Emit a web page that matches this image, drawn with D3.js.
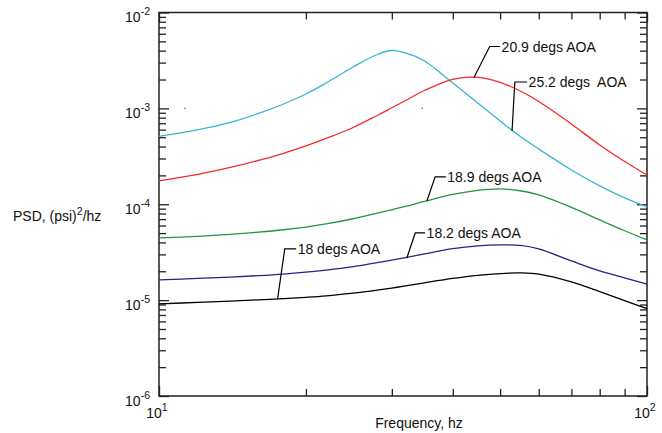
<!DOCTYPE html>
<html><head><meta charset="utf-8">
<script src="https://cdn.jsdelivr.net/npm/d3@7"></script>
<style>
html,body{margin:0;padding:0;background:#fff;}
svg{display:block;font-family:"Liberation Sans",Arial,Helvetica,sans-serif;}
</style></head>
<body>
<svg id="chart" width="662" height="433"></svg>
<script>
// ---------- data ----------
const freqs = [10,12,14,16,18,20,22,25,28,30,32,35,40,45,50,55,60,70,80,90,100];
const aoa25_2 = [5.093e-4,5.954e-4,7.129e-4,8.846e-4,1.111e-3,1.413e-3,1.841e-3,2.702e-3,3.648e-3,4.016e-3,3.782e-3,3.122e-3,1.841e-3,1.138e-3,7.389e-4,5.093e-4,3.772e-4,2.279e-4,1.552e-4,1.163e-4,9.374e-5];
const aoa20_9 = [1.750e-4,2.045e-4,2.419e-4,2.861e-4,3.402e-4,4.054e-4,4.854e-4,6.322e-4,8.433e-4,1.015e-3,1.209e-3,1.537e-3,2.011e-3,2.105e-3,1.863e-3,1.518e-3,1.180e-3,6.877e-4,4.153e-4,2.794e-4,2.021e-4];
const aoa18_9 = [4.452e-5,4.627e-5,4.854e-5,5.118e-5,5.421e-5,5.785e-5,6.232e-5,7.061e-5,8.076e-5,8.761e-5,9.486e-5,1.070e-4,1.265e-4,1.393e-4,1.444e-4,1.383e-4,1.250e-4,9.260e-5,6.861e-5,5.292e-5,4.244e-5];
const aoa18_2 = [1.624e-5,1.684e-5,1.741e-5,1.801e-5,1.871e-5,1.959e-5,2.060e-5,2.240e-5,2.466e-5,2.613e-5,2.774e-5,3.032e-5,3.436e-5,3.675e-5,3.764e-5,3.719e-5,3.420e-5,2.563e-5,2.016e-5,1.704e-5,1.465e-5];
const aoa18 = [9.129e-6,9.486e-6,9.786e-6,1.007e-5,1.036e-5,1.070e-5,1.109e-5,1.186e-5,1.274e-5,1.337e-5,1.406e-5,1.515e-5,1.684e-5,1.814e-5,1.894e-5,1.921e-5,1.867e-5,1.548e-5,1.226e-5,9.881e-6,8.135e-6];

const seriesNames = ["25.2 degs  AOA","20.9 degs AOA","18.9 degs AOA","18.2 degs AOA","18 degs AOA"];
const seriesColors = ["#38b4d4","#f42a2a","#23963a","#2c1f8c","#000000"];
const seriesValues = [aoa25_2, aoa20_9, aoa18_9, aoa18_2, aoa18];

// label leaders in data coords: anchor on curve -> elbow -> end, then text
const labelAnchorF = [52.9, 44.2, 35.4, 32.2, 17.5];
const labelAnchorV = [5.81e-4, 2.1e-3, 1.08e-4, 2.75e-5, 1.03e-5];
const labelElbowF  = [53.6, 47.6, 36.8, 33.5, 18.1];
const labelEndF    = [56.8, 50.0, 38.7, 35.1, 19.1];
const labelV       = [1.885e-3, 4.42e-3, 1.93e-4, 5.02e-5, 3.42e-5];

const xMajor = [10, 100];
const xMinor = [20,30,40,50,60,70,80,90];
const yExponents = [-6,-5,-4,-3,-2];
const xExponents = [1,2];

// ---------- layout ----------
const L = 159, R = 647, T = 12.5, B = 396;
const svg = d3.select("#chart");
const x = d3.scaleLog().domain([10,100]).range([L,R]);
const y = d3.scaleLog().domain([1e-6,1e-2]).range([B,T]);

const yMajor = yExponents.map(e => Math.pow(10,e));
const yMinor = [];
yExponents.slice(0,-1).forEach(e => { for (let k=2;k<=9;k++) yMinor.push(k*Math.pow(10,e)); });

const axisColor = "#222";
const majLen = 10, minLen = 7;

function drawAxis(gen, values, len, tx, ty){
  const g = svg.append("g").attr("transform",`translate(${tx},${ty})`)
    .call(gen.tickValues(values).tickSize(len).tickFormat(""));
  g.select(".domain").remove();
  g.selectAll("line").attr("stroke",axisColor).attr("stroke-width",1.3);
}
drawAxis(d3.axisRight(y), yMajor, majLen, L, 0);
drawAxis(d3.axisRight(y), yMinor, minLen, L, 0);
drawAxis(d3.axisLeft(y), yMajor, majLen, R, 0);
drawAxis(d3.axisLeft(y), yMinor, minLen, R, 0);
drawAxis(d3.axisTop(x), xMajor, majLen, 0, B);
drawAxis(d3.axisTop(x), xMinor, minLen, 0, B);
drawAxis(d3.axisBottom(x), xMajor, majLen, 0, T);
drawAxis(d3.axisBottom(x), xMinor, minLen, 0, T);

svg.append("rect").attr("x",L).attr("y",T).attr("width",R-L).attr("height",B-T)
  .attr("fill","none").attr("stroke",axisColor).attr("stroke-width",1.5);

// y tick labels
yExponents.forEach(e => {
  const t = svg.append("text").attr("x",150).attr("y",y(Math.pow(10,e))+9.5)
    .attr("text-anchor","end").attr("font-size",14).attr("fill","#111");
  t.append("tspan").text("10");
  t.append("tspan").attr("font-size",10.5).attr("dy",-7).text(String(e));
});
// x tick labels
xExponents.forEach(e => {
  const t = svg.append("text").attr("x",x(Math.pow(10,e))-2).attr("y",418)
    .attr("text-anchor","middle").attr("font-size",14).attr("fill","#111");
  t.append("tspan").text("10");
  t.append("tspan").attr("font-size",10.5).attr("dy",-7).text(String(e));
});

// axis titles
svg.append("text").attr("x",419).attr("y",428).attr("text-anchor","middle")
  .attr("font-size",14).attr("fill","#111").text("Frequency, hz");
const yt = svg.append("text").attr("x",13).attr("y",221).attr("font-size",14).attr("fill","#111");
yt.append("tspan").text("PSD, (psi)");
yt.append("tspan").attr("font-size",10.5).attr("dy",-6).text("2");
yt.append("tspan").attr("dy",6).text("/hz");

// stray marks present in original
svg.append("g").selectAll("rect").data([[11.3,1e-3],[34.6,1e-3]]).join("rect")
  .attr("x",d=>x(d[0])-0.6).attr("y",d=>y(d[1])-0.6).attr("width",1.2).attr("height",1.2).attr("fill","#444");

// curves
const line = d3.line().x(d=>x(d[0])).y(d=>y(d[1])).curve(d3.curveCatmullRom.alpha(0.5));
seriesValues.forEach((vals,i) => {
  svg.append("path").datum(freqs.map((f,j)=>[f,vals[j]]))
    .attr("d",line).attr("fill","none").attr("stroke",seriesColors[i]).attr("stroke-width",1.3);
});

// labels
seriesNames.forEach((name,i) => {
  const pts = [[labelAnchorF[i],labelAnchorV[i]],[labelElbowF[i],labelV[i]],[labelEndF[i],labelV[i]]];
  svg.append("path").attr("d", d3.line().x(d=>x(d[0])).y(d=>y(d[1]))(pts))
    .attr("fill","none").attr("stroke","#000").attr("stroke-width",1.2);
  svg.append("text").attr("x",x(labelEndF[i])+1.5).attr("y",y(labelV[i])).attr("dy","0.36em")
    .attr("font-size",14).attr("fill","#111").style("white-space","pre").text(name);
});
</script>
</body></html>
